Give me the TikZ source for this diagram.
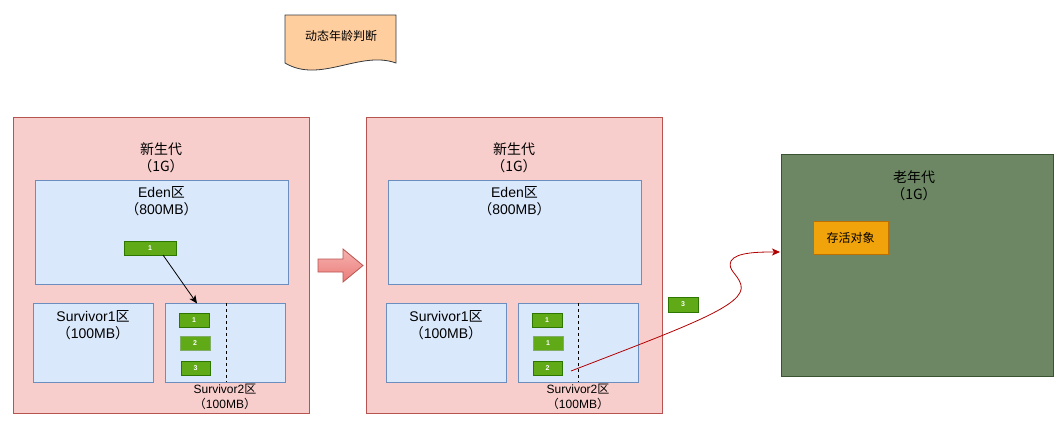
\documentclass[tikz,border=0pt]{standalone}
\usepackage{fontspec}
\setmainfont{Liberation Sans}
\newfontfamily\cjk{Noto Sans CJK SC}
\newcommand\zh[1]{{\cjk #1}}
\usetikzlibrary{arrows.meta}
\definecolor{ygfill}{HTML}{F8CECC}
\definecolor{ygline}{HTML}{B85450}
\definecolor{bfill}{HTML}{DAE8FC}
\definecolor{bline}{HTML}{6C8EBF}
\definecolor{gfill}{HTML}{60A917}
\definecolor{gline}{HTML}{2D7600}
\definecolor{ofill}{HTML}{6D8764}
\definecolor{oline}{HTML}{3A5431}
\definecolor{afill}{HTML}{F0A30A}
\definecolor{aline}{HTML}{BD7000}
\definecolor{dfill}{HTML}{FFCE9F}
\definecolor{dline}{HTML}{36393D}
\definecolor{redline}{HTML}{B20000}
\definecolor{arrtop}{HTML}{F4B2B0}
\definecolor{arrbot}{HTML}{EC7C79}
\begin{document}
\begin{tikzpicture}[x=1pt,y=-1pt,
  area/.style={draw=ygline,fill=ygfill,line width=0.8pt,inner sep=0pt},
  zone/.style={draw=bline,fill=bfill,line width=0.8pt,inner sep=0pt},
  obj/.style={draw=gline,fill=gfill,line width=0.8pt,inner sep=0pt,text=white,font=\fontsize{7}{8}\bfseries\selectfont},
  lbl/.style={align=center,inner sep=0pt,font=\fontsize{14}{16.5}\selectfont},
  slbl/.style={align=center,inner sep=0pt,font=\fontsize{12}{15}\selectfont},
  dashline/.style={draw=black,dashed,line width=0.8pt},
  conn/.style={-{Stealth[length=8pt,width=7pt,inset=2pt]},line width=0.8pt}
]
\useasboundingbox (0,0) rectangle (1056,423);

% document shape
\draw[fill=dfill,draw=dline,line width=0.8pt] (285,15) -- (396,15) -- (396,63)
  .. controls (360,50) and (320,84) .. (285,63) -- cycle;
\node[slbl] (doc) at (341,36) {\zh{动态年龄判断}};

% left young generation
\node[area,minimum width=296pt,minimum height=296pt] (yg1) at (161,265) {};
\node[lbl] (yg1t) at (161,158) {\zh{新生代}\\\zh{（1G）}};
\node[zone,minimum width=253pt,minimum height=104pt] (eden1) at (161.5,232) {};
\node[lbl] (eden1t) at (161.5,201) {Eden\zh{区}\\\zh{（}800MB\zh{）}};
\node[zone,minimum width=120pt,minimum height=79pt] (sa1) at (93,342.5) {};
\node[lbl] (sa1t) at (93,325) {Survivor1\zh{区}\\\zh{（}100MB\zh{）}};
\node[zone,minimum width=120pt,minimum height=79pt] (sb1) at (225,342.5) {};
\coordinate (d1a) at (226,303);
\coordinate (d1b) at (226,382);
\draw[dashline] (d1a) -- (d1b);
\node[slbl] (sb1t) at (225,396.5) {Survivor2\zh{区}\\\zh{（}100MB\zh{）}};
\node[obj,minimum width=52pt,minimum height=14pt] (e1) at (150,248) {1};
\node[obj,minimum width=30pt,minimum height=14pt] (s11) at (194,320.5) {1};
\node[obj,draw=gline!60,minimum width=30pt,minimum height=14pt] (s12) at (195,343) {2};
\node[obj,minimum width=29pt,minimum height=14pt] (s13) at (195.5,368) {3};
\coordinate (arrStart) at (163,255);
\coordinate (arrEnd) at (197,303.5);
\draw[conn] (arrStart) -- (arrEnd);

% block arrow
\shade[top color=arrtop,bottom color=arrbot,draw=ygline,line width=0.8pt]
  (318,259) -- (343,259) -- (343,249) -- (363,265.5) -- (343,282) -- (343,272) -- (318,272) -- cycle;

% middle young generation
\node[area,minimum width=296pt,minimum height=296pt] (yg2) at (514,265) {};
\node[lbl] (yg2t) at (514,158) {\zh{新生代}\\\zh{（1G）}};
\node[zone,minimum width=253pt,minimum height=104pt] (eden2) at (514.5,232) {};
\node[lbl] (eden2t) at (514.5,201) {Eden\zh{区}\\\zh{（}800MB\zh{）}};
\node[zone,minimum width=120pt,minimum height=79pt] (sa2) at (446,342.5) {};
\node[lbl] (sa2t) at (446,325) {Survivor1\zh{区}\\\zh{（}100MB\zh{）}};
\node[zone,minimum width=120pt,minimum height=79pt] (sb2) at (578,342.5) {};
\coordinate (d2a) at (578,303);
\coordinate (d2b) at (578,382);
\draw[dashline] (d2a) -- (d2b);
\node[slbl] (sb2t) at (578,396.5) {Survivor2\zh{区}\\\zh{（}100MB\zh{）}};
\node[obj,minimum width=30pt,minimum height=14pt] (s21) at (547,320.5) {1};
\node[obj,draw=gline!60,minimum width=30pt,minimum height=14pt] (s22) at (548,343) {1};
\node[obj,minimum width=29pt,minimum height=14pt] (s23) at (547.5,368) {2};

% moved object
\node[obj,minimum width=30pt,minimum height=15pt] (o3) at (683,304.5) {3};

% old generation
\node[draw=oline,fill=ofill,line width=0.8pt,minimum width=272pt,minimum height=222pt,inner sep=0pt] (old) at (917,265) {};
\node[lbl] (oldt) at (914,186) {\zh{老年代}\\\zh{（1G）}};
\node[draw=aline,fill=afill,line width=0.8pt,minimum width=75pt,minimum height=33pt,inner sep=0pt,font=\fontsize{12}{14}\selectfont] (alive) at (850.5,237.5) {\zh{存活对象}};

% red curve
\coordinate (rStart) at (571,371);
\coordinate (rEnd) at (780,252);
\draw[conn,draw=redline,fill=none] (rStart)
  .. controls (690,325) and (746,305) .. (741,285)
  .. controls (738,274) and (727,270) .. (731,261)
  .. controls (736,252) and (760,252) .. (rEnd);
\end{tikzpicture}
\end{document}
